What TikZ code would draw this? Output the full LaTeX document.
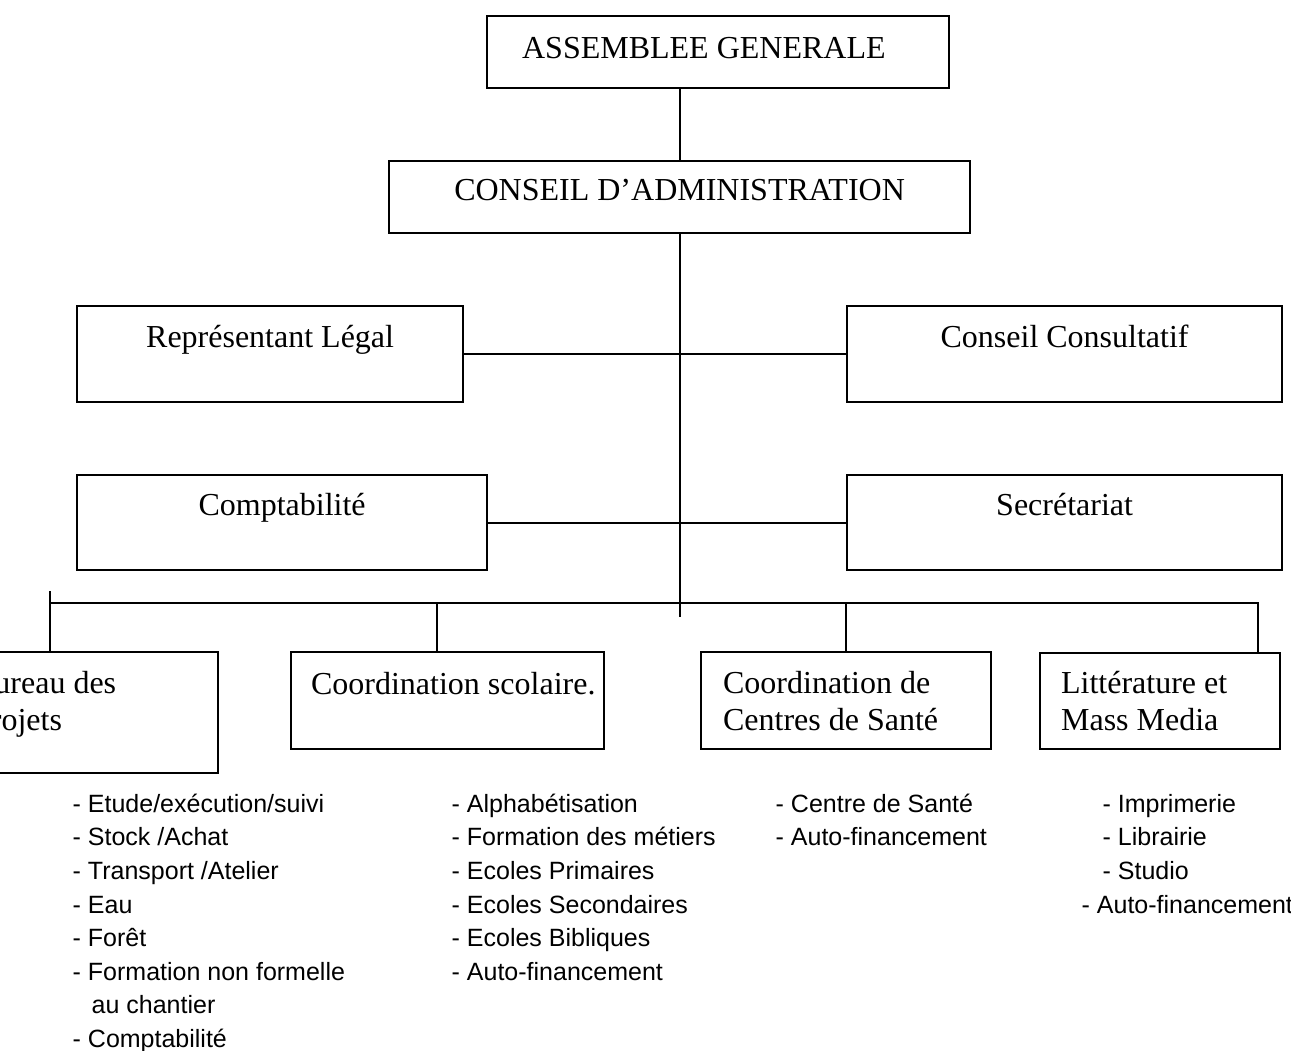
\documentclass[tikz,border=0pt]{standalone}
\usepackage{fontspec}
\setmainfont{Liberation Serif}
\setsansfont{Liberation Sans}
\tikzset{
    unit/.style={draw, line width=2.2pt, anchor=north west, inner ysep=0pt,
        font=\fontsize{32}{37}\selectfont},
    central/.style={unit, inner xsep=0pt, align=center},
    flush/.style={unit, align=flush left},
    tasks/.style={anchor=north west, inner sep=0pt, align=flush left,
        font=\sffamily\fontsize{25}{33.6}\selectfont},
    link/.style={line width=2pt},
}

\begin{document}
\begin{tikzpicture}[x=1pt, y=-1pt]
\useasboundingbox (0,0) rectangle (1291,1051);

\node[flush, text width=392pt, inner xsep=35pt, text height=42pt, text depth=30pt] (ag) at (486,15) {ASSEMBLEE GENERALE};
\node[central, minimum width=581pt, text height=39pt, text depth=33pt] (ca) at (388,160) {CONSEIL D’ADMINISTRATION};

\node[central, minimum width=386pt, text height=41pt, text depth=55pt] (rl) at (76,305) {Représentant Légal};
\node[central, minimum width=435pt, text height=41pt, text depth=55pt] (cc) at (846,305) {Conseil Consultatif};
\node[central, minimum width=410pt, text height=40pt, text depth=55pt] (cp) at (76,474) {Comptabilité};
\node[central, minimum width=435pt, text height=40pt, text depth=55pt] (se) at (846,474) {Secrétariat};

\node[flush, text width=229pt, inner xsep=16pt, text height=41pt, text depth=80pt] (bp) at (-44,651) {Bureau des\\Projets};
\node[flush, text width=273pt, inner xsep=20pt, text height=42pt, text depth=55pt] (cs) at (290,651) {\mbox{Coordination scolaire.}};
\node[flush, text width=246pt, inner xsep=22pt, text height=41pt, text depth=56pt] (sante) at (700,651) {Coordination de\\Centres de Santé};
\node[flush, text width=198pt, inner xsep=21pt, text height=40pt, text depth=56pt] (lm) at (1039,652) {Littérature et\\Mass Media};

% task lists under the units
\node[tasks] (bpl) at (72.5,788.5) {\strut- Etude/exécution/suivi\\- Stock /Achat\\- Transport /Atelier\\- Eau\\- Forêt\\- Formation non formelle\\\hspace*{19pt}au chantier\\- Comptabilité};
\node[tasks] (csl) at (451.5,788.5) {\strut- Alphabétisation\\- Formation des métiers\\- Ecoles Primaires\\- Ecoles Secondaires\\- Ecoles Bibliques\\- Auto-financement};
\node[tasks] (santel) at (775.5,788.5) {\strut- Centre de Santé\\- Auto-financement};
\node[tasks] (lml) at (1102.5,788.5) {\strut- Imprimerie\\- Librairie\\- Studio\\\hspace*{-21pt}- Auto-financement};

\coordinate (foot) at (0,617);
\coordinate (busL) at (50,603);
\coordinate (busR) at (1258,603);
\coordinate (stub) at (50,591);
\coordinate (drop) at (437,603);

\draw[link] (ag.south -| ca.north) -- (ca.north);
\draw[link] (ca.south) -- (ca.south |- foot);
\draw[link] (rl.east) -- (cc.west);
\draw[link] (cp.east) -- (se.west);

\draw[link] (busL) -- (busR) -- (busR |- lm.north);
\draw[link] (stub) -- (stub |- bp.north);
\draw[link] (drop) -- (drop |- cs.north);
\draw[link] (sante.north |- busL) -- (sante.north);

\end{tikzpicture}
\end{document}
